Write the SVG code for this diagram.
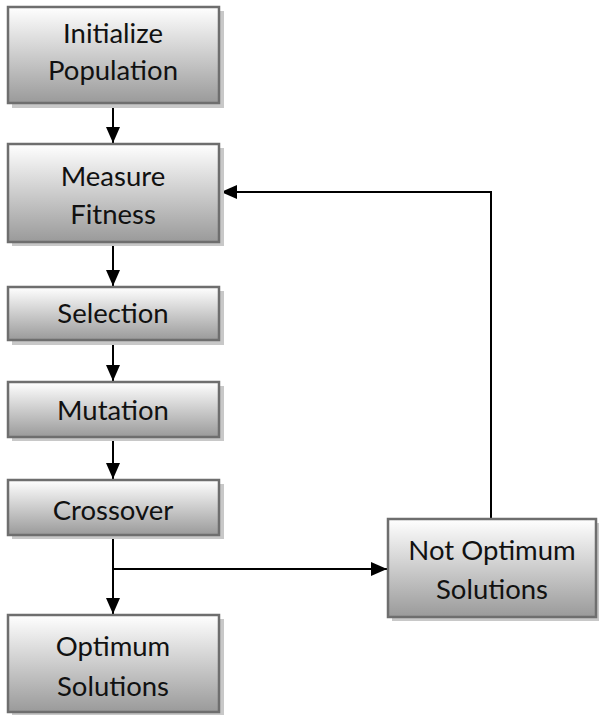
<svg xmlns="http://www.w3.org/2000/svg" width="599" height="715" viewBox="0 0 599 715">
<defs>
<linearGradient id="g" x1="0" y1="0" x2="0" y2="1">
<stop offset="0" stop-color="#ffffff"/>
<stop offset="1" stop-color="#9a9a9a"/>
</linearGradient>
<marker id="ah" markerWidth="16" markerHeight="14" refX="16" refY="7" orient="auto" markerUnits="userSpaceOnUse">
<path d="M0,0 L16,7 L0,14 Z" fill="#000"/>
</marker>
<style>
.sh{fill:#c8c8c8}
.bx{fill:url(#g);stroke:#6e6e6e;stroke-width:2.5}
.t{font-family:Lato,"Open Sans",sans-serif;font-size:27.5px;fill:#111;text-anchor:middle}
.c{fill:none;stroke:#000;stroke-width:2}
</style>
</defs>
<rect width="599" height="715" fill="#fff"/>
<g id="connectors">
<line class="c" x1="113" y1="104" x2="113" y2="143" marker-end="url(#ah)"/>
<line class="c" x1="113" y1="243" x2="113" y2="286" marker-end="url(#ah)"/>
<line class="c" x1="113" y1="341" x2="113" y2="381" marker-end="url(#ah)"/>
<line class="c" x1="113" y1="438" x2="113" y2="479" marker-end="url(#ah)"/>
<line class="c" x1="113" y1="536" x2="113" y2="614" marker-end="url(#ah)"/>
<line class="c" x1="112" y1="569" x2="387" y2="569" marker-end="url(#ah)"/>
<polyline class="c" points="491,518 491,192 221,192" marker-end="url(#ah)"/>
</g>
<g id="n1">
<rect class="sh" x="12" y="11" width="212" height="97"/>
<rect class="bx" x="8" y="7" width="211" height="96"/>
<text class="t" x="113" y="43">Initialize</text>
<text class="t" x="113" y="80">Population</text>
</g>
<g id="n2">
<rect class="sh" x="12" y="148" width="212" height="98"/>
<rect class="bx" x="8" y="144" width="211" height="98"/>
<text class="t" x="113" y="186">Measure</text>
<text class="t" x="113" y="224">Fitness</text>
</g>
<g id="n3">
<rect class="sh" x="12" y="291" width="212" height="54"/>
<rect class="bx" x="8" y="287" width="211" height="53"/>
<text class="t" x="113" y="323">Selection</text>
</g>
<g id="n4">
<rect class="sh" x="12" y="386" width="212" height="55"/>
<rect class="bx" x="8" y="382" width="211" height="55"/>
<text class="t" x="113" y="420">Mutation</text>
</g>
<g id="n5">
<rect class="sh" x="12" y="484" width="212" height="55"/>
<rect class="bx" x="8" y="480" width="211" height="55"/>
<text class="t" x="113" y="520">Crossover</text>
</g>
<g id="n6">
<rect class="sh" x="12" y="619" width="212" height="97"/>
<rect class="bx" x="8" y="615" width="211" height="97"/>
<text class="t" x="113" y="656">Optimum</text>
<text class="t" x="113" y="696">Solutions</text>
</g>
<g id="n7">
<rect class="sh" x="392" y="523" width="207" height="98"/>
<rect class="bx" x="388" y="519" width="208" height="98"/>
<text class="t" x="492" y="560">Not Optimum</text>
<text class="t" x="492" y="599">Solutions</text>
</g>
</svg>
